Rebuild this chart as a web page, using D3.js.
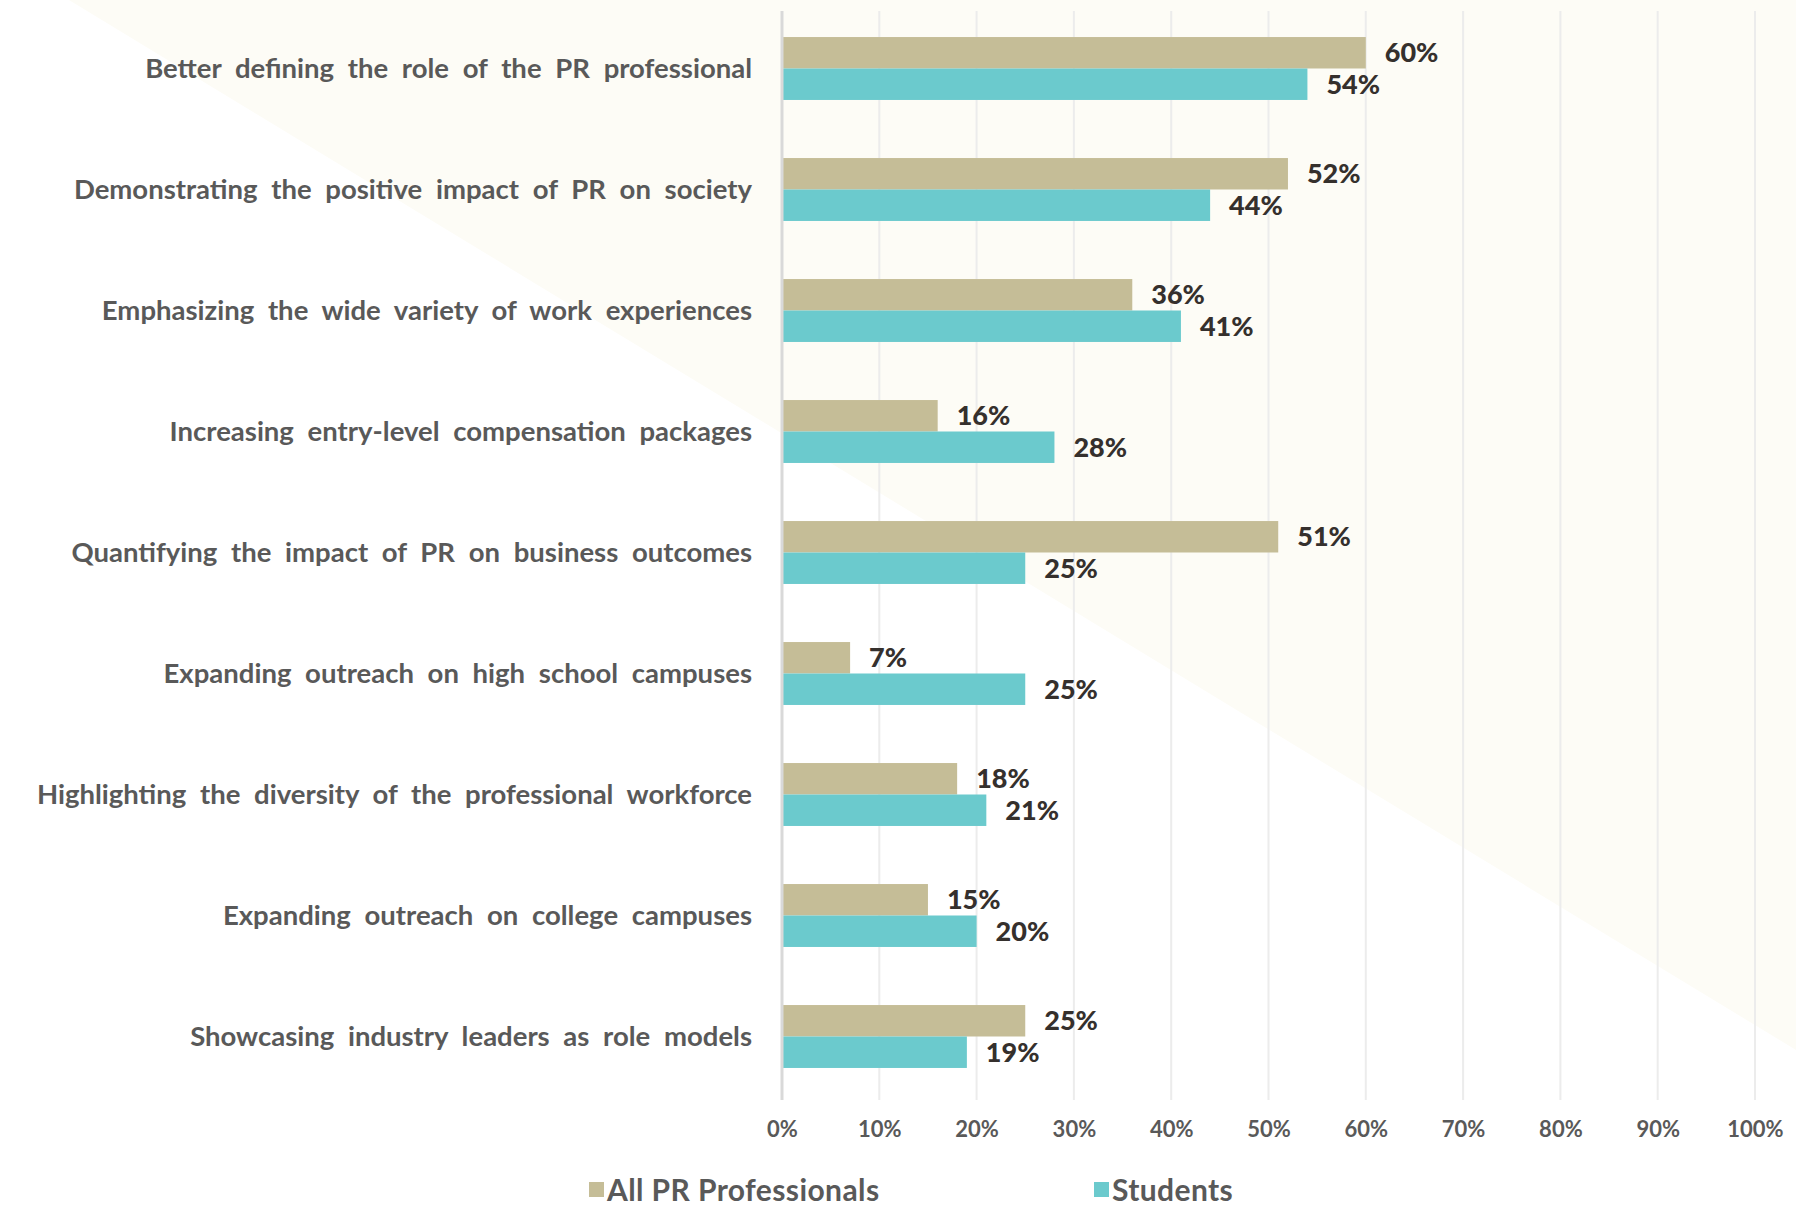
<!DOCTYPE html>
<html>
<head>
<meta charset="utf-8">
<script src="https://cdn.jsdelivr.net/npm/d3@7"></script>
<style>
body { margin: 0; background: #fff; }
text { font-family: Lato, "Open Sans", sans-serif; font-weight: 700; }
</style>
</head>
<body>
<script>
var categories = [
  "Better defining the role of the PR professional",
  "Demonstrating the positive impact of PR on society",
  "Emphasizing the wide variety of work experiences",
  "Increasing entry-level compensation packages",
  "Quantifying the impact of PR on business outcomes",
  "Expanding outreach on high school campuses",
  "Highlighting the diversity of the professional workforce",
  "Expanding outreach on college campuses",
  "Showcasing industry leaders as role models"
];
var professionals = [60, 52, 36, 16, 51, 7, 18, 15, 25];
var students = [54, 44, 41, 28, 25, 25, 21, 20, 19];
var seriesNames = ["All PR Professionals", "Students"];
var tickValues = [0, 10, 20, 30, 40, 50, 60, 70, 80, 90, 100];

var width = 1796,
    height = 1209;

var colors = ["#c5bd97", "#6bcacd"];

var svg = d3.select("body").append("svg")
    .attr("width", width)
    .attr("height", height);

// pale diagonal background
svg.append("path")
  .attr("d", "M69,0 L" + width + ",0 L" + width + ",1050 Z")
  .attr("fill", "#fdfcf6");

var x = d3.scaleLinear()
  .domain([0, 100])
  .range([782, 1755]);

var y = d3.scaleBand()
  .domain(categories)
  .range([8, 1097])
  .paddingInner(0.48)
  .paddingOuter(0.24);

var sub = d3.scaleBand()
  .domain([0, 1])
  .range([0, y.bandwidth()]);

// gridlines
svg.append("g")
  .selectAll("line")
  .data(tickValues.slice(1))
  .enter().append("line")
  .attr("x1", function(d) { return x(d); })
  .attr("x2", function(d) { return x(d); })
  .attr("y1", 11)
  .attr("y2", 1100)
  .attr("stroke", "#ececec")
  .attr("stroke-width", 2);

var rows = categories.map(function(c, i) {
  return { cat: c, vals: [professionals[i], students[i]] };
});

var groups = svg.append("g")
  .selectAll("g")
  .data(rows)
  .enter().append("g")
  .attr("transform", function(d) { return "translate(0," + y(d.cat) + ")"; });

groups.selectAll("rect")
  .data(function(d) { return d.vals; })
  .enter().append("rect")
  .attr("x", x(0))
  .attr("y", function(d, i) { return sub(i); })
  .attr("width", function(d) { return x(d) - x(0); })
  .attr("height", sub.bandwidth())
  .attr("fill", function(d, i) { return colors[i]; });

groups.selectAll("text.val")
  .data(function(d) { return d.vals; })
  .enter().append("text")
  .attr("class", "val")
  .attr("x", function(d) { return x(d) + 19; })
  .attr("y", function(d, i) { return sub(i) + sub.bandwidth() / 2; })
  .attr("dy", "0.36em")
  .attr("fill", "#35302d")
  .style("font-size", "27px")
  .style("font-weight", 900)
  .text(function(d) { return d + "%"; });

// category labels
svg.append("g")
  .selectAll("text")
  .data(categories)
  .enter().append("text")
  .attr("x", 752)
  .attr("y", function(d) { return y(d) + y.bandwidth() / 2; })
  .attr("dy", "0.35em")
  .attr("text-anchor", "end")
  .attr("fill", "#595959")
  .style("font-size", "27.5px")
  .style("word-spacing", "7px")
  .text(function(d) { return d; });

// left axis line
svg.append("line")
  .attr("x1", x(0))
  .attr("x2", x(0))
  .attr("y1", 11)
  .attr("y2", 1100)
  .attr("stroke", "#d9d9d9")
  .attr("stroke-width", 3);

// bottom tick labels
var xAxis = d3.axisBottom(x)
  .tickValues(tickValues)
  .tickSize(0)
  .tickPadding(21)
  .tickFormat(function(d) { return d + "%"; });

var ax = svg.append("g")
  .attr("transform", "translate(0,1100)")
  .call(xAxis);
ax.select(".domain").remove();
ax.selectAll("text")
  .attr("fill", "#595959")
  .style("font-size", "22px")
  .style("font-family", "Lato, sans-serif");

// legend
var legendX = [589, 1094];
var legend = svg.append("g")
  .selectAll("g")
  .data(seriesNames)
  .enter().append("g")
  .attr("transform", function(d, i) { return "translate(" + legendX[i] + ",1182)"; });

legend.append("rect")
  .attr("width", 15)
  .attr("height", 15)
  .attr("fill", function(d, i) { return colors[i]; });

legend.append("text")
  .attr("x", 18)
  .attr("y", 8)
  .attr("dy", "0.36em")
  .attr("fill", "#595959")
  .style("font-size", "30px")
  .style("letter-spacing", "0.4px")
  .text(function(d) { return d; });
</script>
</body>
</html>
